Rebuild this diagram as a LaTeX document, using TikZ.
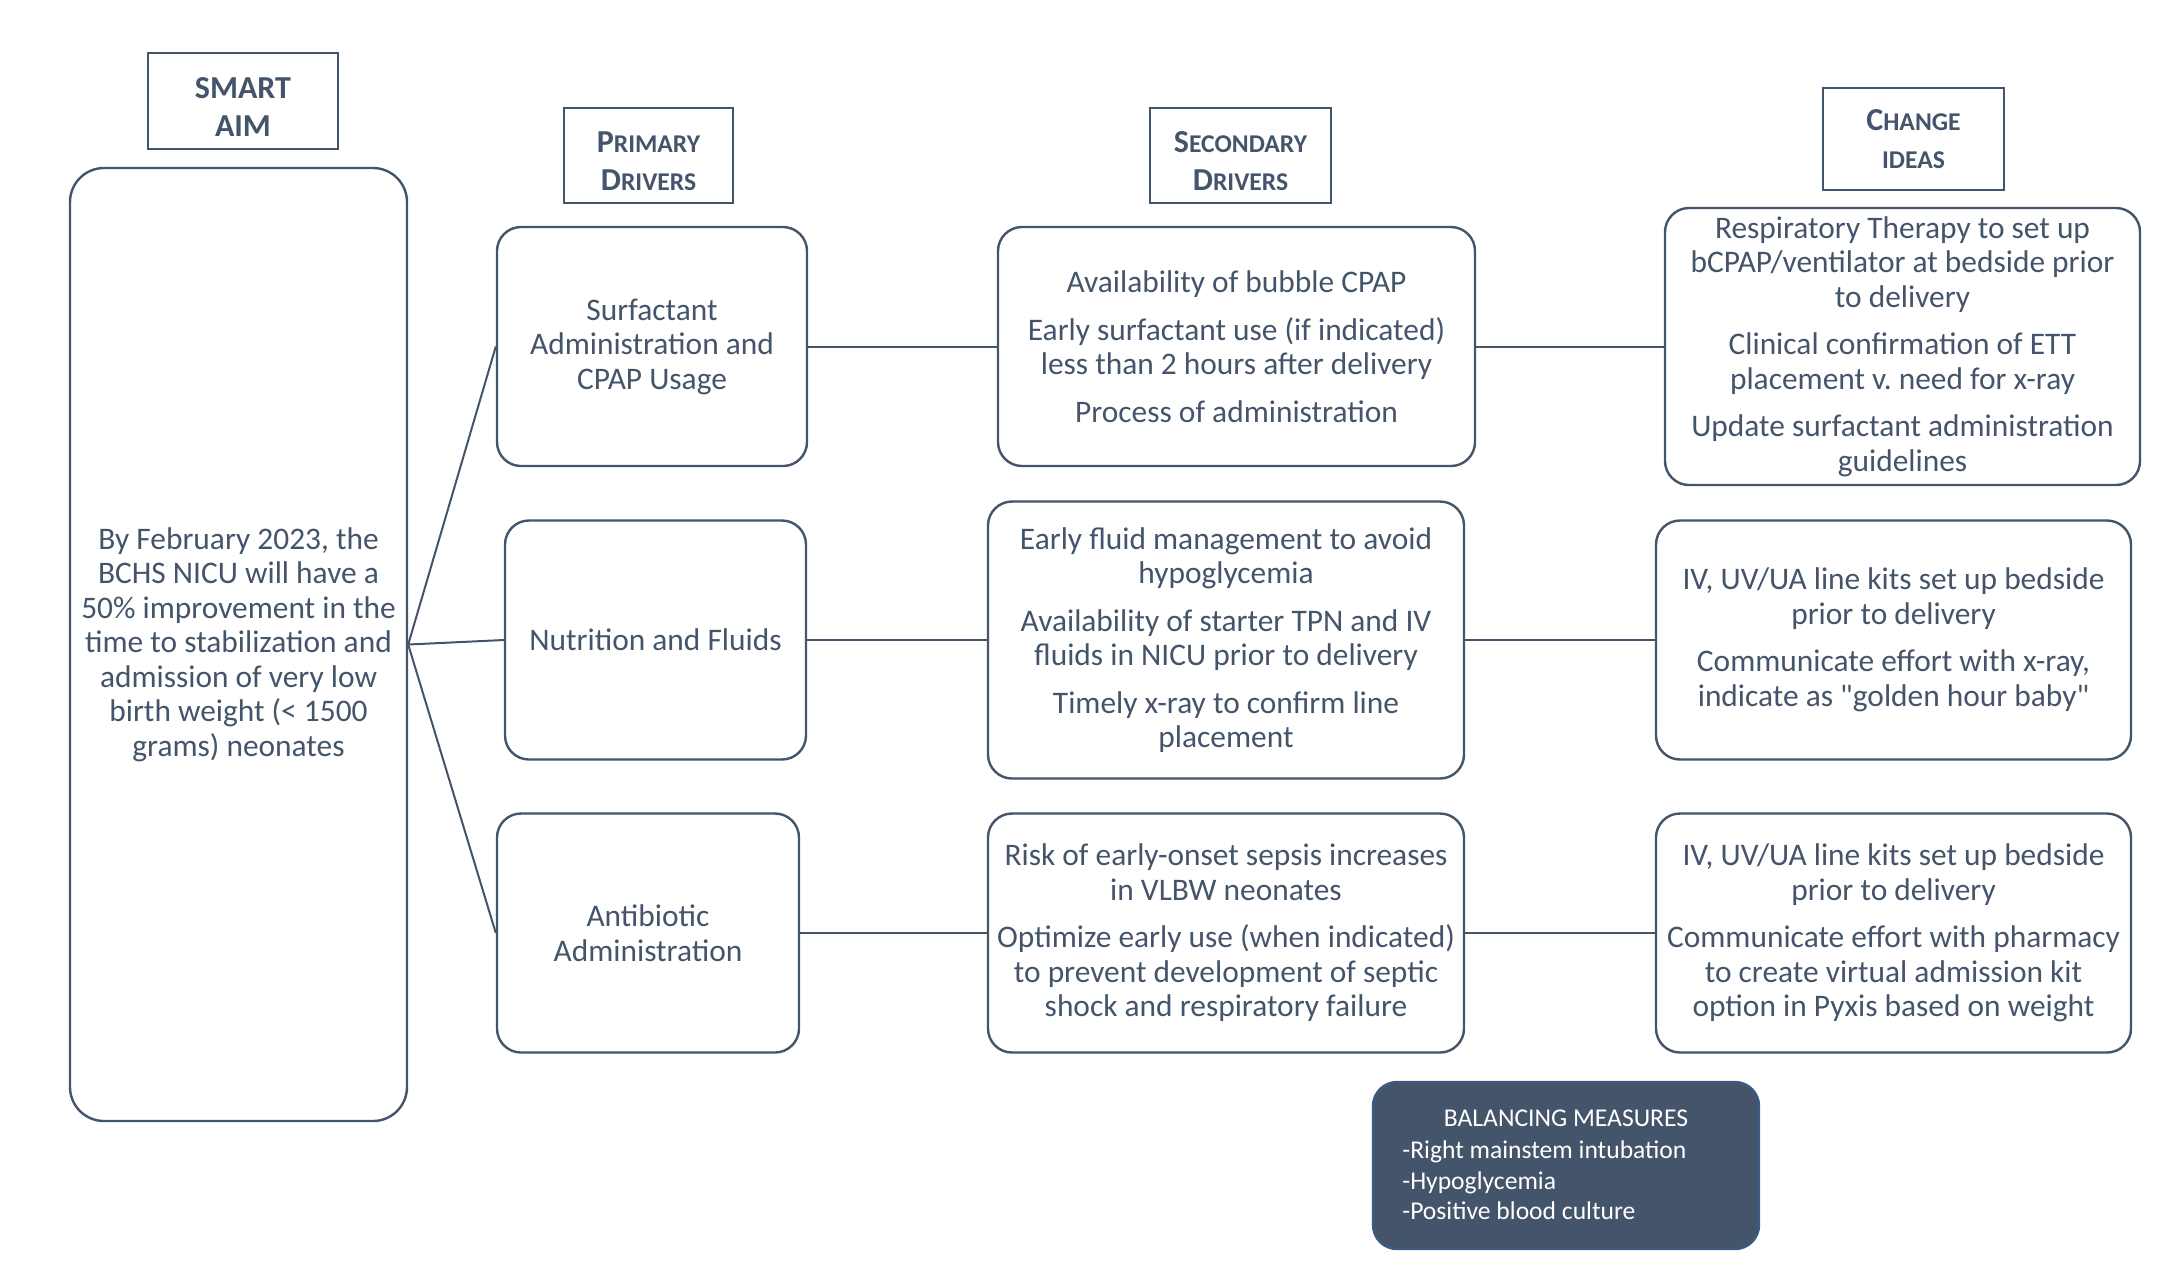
\documentclass[tikz,border=0pt]{standalone}
\usepackage{fontspec}
\setmainfont{Carlito}[Ligatures=TeXOff]
\definecolor{slate}{HTML}{44546A}
\definecolor{balborder}{HTML}{3C5A82}
\newcommand\fsc[2]{{\fontsize{16}{19}\selectfont #1}{\fontsize{12.8}{19}\selectfont #2}}
\newcommand\pgap{\\[6.5pt]}
\newcommand\toppad{\rule{0pt}{16pt}}
\begin{document}
\begin{tikzpicture}[x=0.5pt,y=-0.5pt,
  box/.style={draw=slate, line width=1.2pt, rounded corners=12pt, inner sep=0pt, text=slate, align=center, font=\fontsize{15.7}{17.25}\selectfont},
  hdr/.style={draw=slate, line width=1pt, inner sep=0pt, text=slate, align=center, font=\fontsize{16}{19}\selectfont\bfseries},
  conn/.style={draw=slate, line width=1pt},
  baltext/.style={inner sep=0pt, text=white, font=\fontsize{12.8}{15.25}\selectfont}]
\useasboundingbox (0,0) rectangle (2178,1260);
% headers
\node[hdr, minimum width=95pt, minimum height=48pt] (smart) at (243,101) {\toppad SMART\\AIM};
\node[hdr, minimum width=84.5pt, minimum height=47.5pt] (hprim) at (648.5,155.5) {\toppad\fsc{P}{RIMARY}\\\fsc{D}{RIVERS}};
\node[hdr, minimum width=90.5pt, minimum height=47.5pt] (hsec) at (1240.5,155.5) {\toppad\fsc{S}{ECONDARY}\\\fsc{D}{RIVERS}};
\node[hdr, minimum width=90.5pt, minimum height=51pt] (hchg) at (1913.5,139) {\fsc{C}{HANGE}\\\fsc{}{IDEAS}};
% aim
\node[box, rounded corners=17pt, minimum width=168.5pt, minimum height=476.5pt] (aim) at (238.5,644.5)
 {By February 2023, the\\BCHS NICU will have a\\50\% improvement in the\\time to stabilization and\\admission of very low\\birth weight (< 1500\\grams) neonates};
% primary drivers
\node[box, minimum width=155pt, minimum height=119.5pt] (surf) at (652,346.5) {Surfactant\\Administration and\\CPAP Usage};
\node[box, minimum width=150.5pt, minimum height=119.5pt] (nut) at (655.5,640) {Nutrition and Fluids};
\node[box, minimum width=151pt, minimum height=119.5pt] (anti) at (648,933) {Antibiotic\\Administration};
% secondary drivers
\node[box, minimum width=238.5pt, minimum height=119.5pt] (sec1) at (1236.5,346.5)
 {Availability of bubble CPAP\pgap Early surfactant use (if indicated)\\less than 2 hours after delivery\pgap Process of administration};
\node[box, minimum width=238pt, minimum height=138.5pt] (sec2) at (1226,640)
 {Early fluid management to avoid\\hypoglycemia\pgap Availability of starter TPN and IV\\fluids in NICU prior to delivery\pgap Timely x-ray to confirm line\\placement};
\node[box, minimum width=238pt, minimum height=119.5pt] (sec3) at (1226,933)
 {Risk of early-onset sepsis increases\\in VLBW neonates\pgap Optimize early use (when indicated)\\to prevent development of septic\\shock and respiratory failure};
% change ideas
\node[box, minimum width=237.5pt, minimum height=138.5pt] (ch1) at (1902.5,346.5)
 {Respiratory Therapy to set up\\bCPAP/ventilator at bedside prior\\to delivery\pgap Clinical confirmation of ETT\\placement v.\ need for x-ray\pgap Update surfactant administration\\guidelines};
\node[box, minimum width=237.5pt, minimum height=119.5pt] (ch2) at (1893.5,640)
 {IV, UV/UA line kits set up bedside\\prior to delivery\pgap Communicate effort with x-ray,\\indicate as "golden hour baby"};
\node[box, minimum width=237.5pt, minimum height=119.5pt] (ch3) at (1893.5,933)
 {IV, UV/UA line kits set up bedside\\prior to delivery\pgap Communicate effort with pharmacy\\to create virtual admission kit\\option in Pyxis based on weight};
% balancing measures
\node[draw=balborder, fill=slate, line width=1.2pt, rounded corners=12pt, minimum width=193pt, minimum height=83.5pt, inner sep=0pt] (bal) at (1566,1165.5) {};
\node[baltext] (baltitle) at (1566,1118) {BALANCING MEASURES};
\node[baltext, anchor=west, align=left] (balitems) at (1402,1180.5) {-Right mainstem intubation\\-Hypoglycemia\\-Positive blood culture};
% connectors
\draw[conn] (aim.east) -- (surf.west);
\draw[conn] (aim.east) -- (nut.west);
\draw[conn] (aim.east) -- (anti.west);
\draw[conn] (surf.east) -- (sec1.west);
\draw[conn] (sec1.east) -- (ch1.west);
\draw[conn] (nut.east) -- (sec2.west);
\draw[conn] (sec2.east) -- (ch2.west);
\draw[conn] (anti.east) -- (sec3.west);
\draw[conn] (sec3.east) -- (ch3.west);
\end{tikzpicture}
\end{document}
